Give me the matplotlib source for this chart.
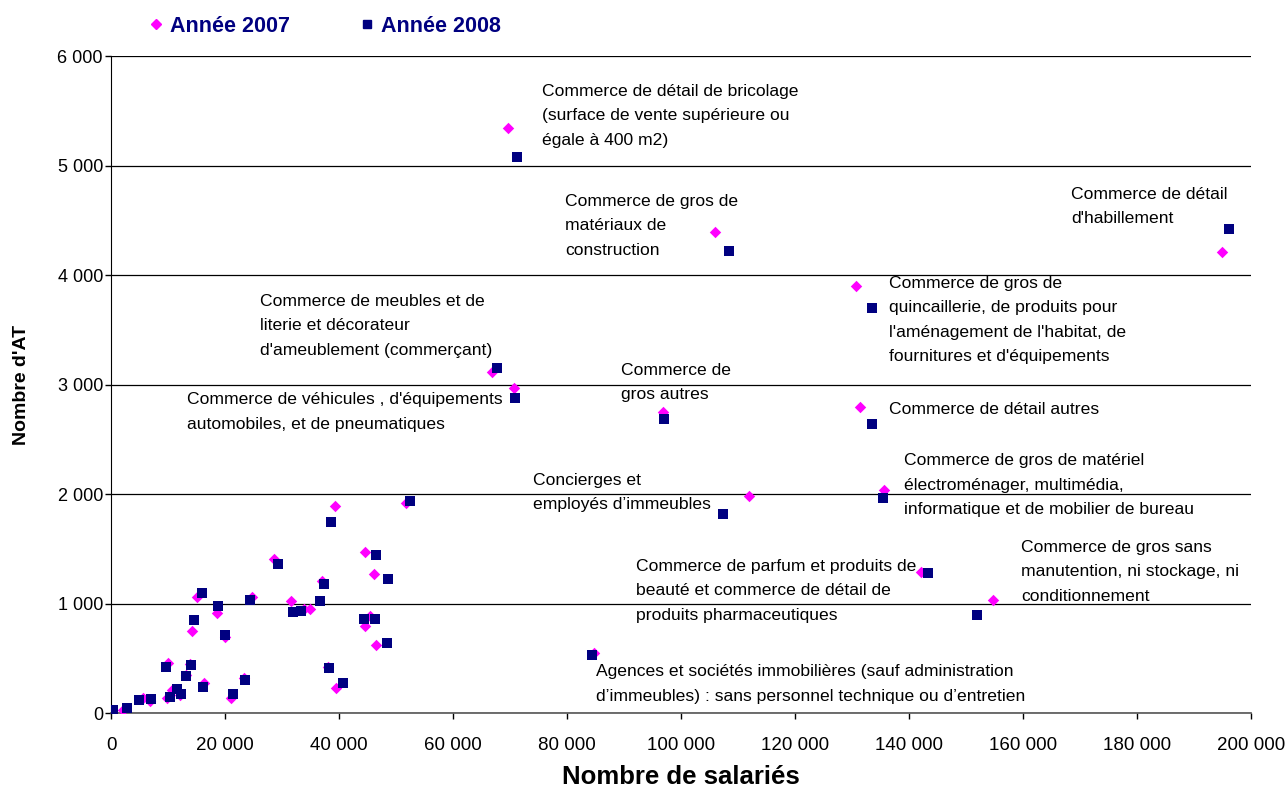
import matplotlib
matplotlib.use("Agg")
import matplotlib.pyplot as plt
from matplotlib.ticker import FuncFormatter, MultipleLocator
from matplotlib.lines import Line2D

plt.rcParams['font.family'] = ['Liberation Sans', 'DejaVu Sans']

# ---- data: (Nombre de salariés, Nombre d'AT) ----
x2007 = [200, 2100, 5500, 6800, 10000, 9700, 10600, 12000, 13100, 13800,
         14100, 14980, 16320, 18540, 20000, 20940, 23330, 24620,
         39180, 51640, 28540, 44560, 46030, 36900, 31470, 33850, 34850,
         45380, 44560, 46480, 38100, 39410,
         69530, 106010, 194870, 130620, 131320, 66720, 70580, 96890,
         111970, 135590, 142140, 154700, 84720]
y2007 = [10, 25, 139, 109, 462, 142, 211, 165, 348, 446,
         752, 1063, 272, 916, 700, 142, 320, 1058,
         1892, 1916, 1411, 1471, 1272, 1206, 1024, 952, 949,
         888, 800, 619, 420, 229,
         5347, 4397, 4214, 3904, 2799, 3113, 2973, 2751,
         1983, 2038, 1287, 1036, 552]

x2008 = [300, 2700, 4900, 6960, 9650, 10350, 11580, 12220, 13050, 13930,
         14450, 15850, 16140, 18720, 19940, 21290, 23450, 24270,
         38540, 52400, 29240, 46430, 48530, 37310, 31870, 33270, 36600,
         44270, 46200, 48300, 38240, 40690,
         71280, 108350, 196170, 133550, 133550, 67700, 70860, 97000,
         107350, 135480, 143370, 151970, 84370]
y2008 = [30, 45, 121, 130, 426, 151, 217, 178, 338, 438,
         849, 1094, 242, 982, 710, 178, 302, 1034,
         1750, 1934, 1366, 1441, 1230, 1179, 922, 934, 1022,
         858, 858, 637, 414, 278,
         5082, 4221, 4419, 3698, 2638, 3155, 2876, 2689,
         1819, 1968, 1278, 894, 532]

series_names = ["Année 2007", "Année 2008"]

labels = [
    "Commerce de détail de bricolage\n(surface de vente supérieure ou\négale à 400 m2)",
    "Commerce de gros de\nmatériaux de\nconstruction",
    "Commerce de détail\nd'habillement",
    "Commerce de gros de\nquincaillerie, de produits pour\nl'aménagement de l'habitat, de\nfournitures et d'équipements",
    "Commerce de meubles et de\nliterie et décorateur\nd'ameublement (commerçant)",
    "Commerce de véhicules , d'équipements\nautomobiles, et de pneumatiques",
    "Commerce de\ngros autres",
    "Commerce de détail autres",
    "Concierges et\nemployés d’immeubles",
    "Commerce de gros de matériel\nélectroménager, multimédia,\ninformatique et de mobilier de bureau",
    "Commerce de parfum et produits de\nbeauté et commerce de détail de\nproduits pharmaceutiques",
    "Commerce de gros sans\nmanutention, ni stockage, ni\nconditionnement",
    "Agences et sociétés immobilières (sauf administration\nd’immeubles) : sans personnel technique ou d’entretien",
]
# label anchor positions (left edge, vertical centre of block) in data units
label_x = [75560, 79600, 168370, 136450, 26090, 13280, 89420, 136450,
           73990, 139070, 92050, 159600, 85030]
label_y = [5456, 4452, 4627, 3591, 3539, 2751, 3020, 2778,
           2015, 2081, 1119, 1292, 267]

PINK = "#FF00FF"
NAVY = "#000080"

fig = plt.figure(figsize=(12.86, 7.90), dpi=100)
ax = fig.add_axes([111.3 / 1286, 1 - 713.2 / 790, (1251 - 111.3) / 1286, (713.2 - 56.2) / 790])

ax.scatter(x2007, y2007, marker="D", s=34, color=PINK, linewidths=0, zorder=3)
ax.scatter(x2008, y2008, marker="s", s=50, color=NAVY, linewidths=0, zorder=4)

ax.set_xlim(0, 200000)
ax.set_ylim(0, 6000)
ax.xaxis.set_major_locator(MultipleLocator(20000))
ax.yaxis.set_major_locator(MultipleLocator(1000))
fmt = FuncFormatter(lambda v, p: f"{int(round(v)):,}".replace(",", " "))
ax.xaxis.set_major_formatter(fmt)
ax.yaxis.set_major_formatter(fmt)

ax.grid(axis="y", color="black", linewidth=0.9)
ax.set_axisbelow(True)
for s in ["top", "right"]:
    ax.spines[s].set_visible(False)
ax.spines["left"].set_color("black")
ax.spines["bottom"].set_color("#555555")
ax.spines["bottom"].set_linewidth(1.2)
ax.tick_params(axis="both", direction="out", length=4, width=1, labelsize=13.5, colors="black")
ax.tick_params(axis="x", pad=13)
ax.tick_params(axis="y", pad=2, labelsize=13)

ax.set_xlabel("Nombre de salariés", fontsize=18.5, fontweight="bold", labelpad=8)
ax.set_ylabel("Nombre d'AT", fontsize=14, fontweight="bold", labelpad=20)

for t, lx, ly in zip(labels, label_x, label_y):
    ax.text(lx, ly, t, ha="left", va="center", fontsize=12.6, linespacing=1.8,
            color="black", zorder=5)

handles = [
    Line2D([], [], marker="D", linestyle="none", color=PINK, markersize=5.5),
    Line2D([], [], marker="s", linestyle="none", color=NAVY, markersize=5.5),
]
leg = fig.legend(handles, series_names, loc="center left", bbox_to_anchor=(147 / 1286, 1 - 26 / 790),
                 ncol=2, frameon=False, fontsize=15.5, handlelength=0.8, handletextpad=0.25,
                 columnspacing=3.2, borderaxespad=0, borderpad=0)
for txt in leg.get_texts():
    txt.set_color(NAVY)
    txt.set_fontweight("bold")

fig.savefig("out.png", dpi=100)
